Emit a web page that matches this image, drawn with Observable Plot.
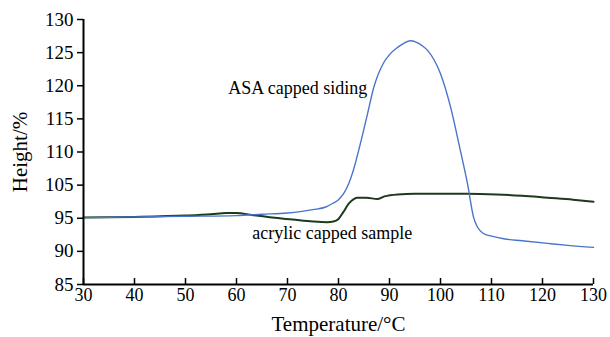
<!DOCTYPE html>
<html>
<head>
<meta charset="utf-8">
<script src="https://cdn.jsdelivr.net/npm/d3@7"></script>
<script src="https://cdn.jsdelivr.net/npm/@observablehq/plot@0.6"></script>
<style>
  html, body { margin: 0; padding: 0; background: #fff; }
  svg, svg text { font-family: "Liberation Serif", "Times New Roman", serif !important; }
</style>
</head>
<body>
<div id="chart"></div>
<script>
// ASA capped siding (blue)
const tempASA = [30, 40, 50, 60, 65, 70, 72.5, 75, 77.5, 79, 80, 81, 82, 82.9, 84.3, 85.7, 86.9, 88.8, 90, 91.6, 92.8, 94.1, 95.2, 96.3, 97.5, 100, 102, 103.9, 105.3, 106.5, 107.3, 108.4, 110, 112.4, 116, 121, 125, 130];
const heightASA = [95.1, 95.2, 95.3, 95.4, 95.6, 95.8, 96.0, 96.3, 96.7, 97.3, 97.8, 98.7, 100.2, 102.2, 106.3, 110.8, 114.7, 118.4, 119.7, 120.8, 121.4, 121.8, 121.6, 121.1, 120.3, 116.8, 111.7, 105.2, 100.2, 95.1, 93.6, 92.7, 92.3, 91.9, 91.6, 91.2, 90.9, 90.6];

// acrylic capped sample (dark green)
const tempAcr = [30, 40, 50, 55, 58, 60, 63, 67, 71, 75, 77.8, 79, 80, 81, 82, 83, 83.7, 85.5, 87.6, 89, 91.6, 95, 98, 105, 111, 116, 121, 126, 130];
const heightAcr = [95.1, 95.2, 95.4, 95.6, 95.8, 95.8, 95.5, 95.1, 94.8, 94.5, 94.4, 94.5, 94.9, 96.0, 97.2, 97.9, 98.1, 98.1, 97.9, 98.3, 98.6, 98.7, 98.7, 98.7, 98.6, 98.4, 98.1, 97.8, 97.5];

// axis ticks (y axis skips the 100 label)
const xTicks = [30, 40, 50, 60, 70, 80, 90, 100, 110, 120, 130];
const yTickPos = [85, 90, 95, 100, 105, 110, 115, 120, 125];
const yTickLabels = ["85", "90", "95", "105", "110", "115", "120", "125", "130"];

// annotations
const labels = [
  {x: 58.4, y: 114.6, text: "ASA capped siding"},
  {x: 63.1, y: 92.8, text: "acrylic capped sample"}
];

const asa = tempASA.map((t, i) => ({t, h: heightASA[i]}));
const acr = tempAcr.map((t, i) => ({t, h: heightAcr[i]}));

const chart = Plot.plot({
  width: 610,
  height: 337,
  marginLeft: 83,
  marginRight: 17,
  marginTop: 19,
  marginBottom: 53,
  style: {fontFamily: "'Liberation Serif', serif", background: "#fff"},
  x: {domain: [30, 130]},
  y: {domain: [85, 125]},
  marks: [
    Plot.line(acr, {x: "t", y: "h", stroke: "#1c3a1c", strokeWidth: 2, curve: "monotone-x"}),
    Plot.line(asa, {x: "t", y: "h", stroke: "#4a74c9", strokeWidth: 1.4, curve: "monotone-x"}),
    Plot.text(labels, {x: "x", y: "y", text: "text", textAnchor: "start", fontSize: 18, fill: "#000", fontFamily: "'Liberation Serif', serif"}),
    Plot.axisX({ticks: xTicks, tickSize: -6, tickPadding: 10, fontSize: 18, stroke: "#000", strokeWidth: 1.5, color: "#000",
      label: "Temperature/°C", labelAnchor: "center", labelArrow: "none", labelOffset: 46}),
    Plot.axisY({ticks: yTickPos, tickSize: 6, tickPadding: 4, fontSize: 19, strokeWidth: 1.5, color: "#000",
      tickFormat: (d) => yTickLabels[yTickPos.indexOf(d)],
      label: "Height/%", labelAnchor: "center", labelArrow: "none", labelOffset: 71}),
    Plot.ruleX([30], {stroke: "#000", strokeWidth: 2}),
    Plot.ruleY([85], {stroke: "#000", strokeWidth: 2})
  ]
});
document.getElementById("chart").appendChild(chart);
// enlarge axis titles
chart.querySelectorAll("g[aria-label='x-axis label'] text, g[aria-label='y-axis label'] text").forEach(t => t.setAttribute("font-size", "21"));
</script>
</body>
</html>
